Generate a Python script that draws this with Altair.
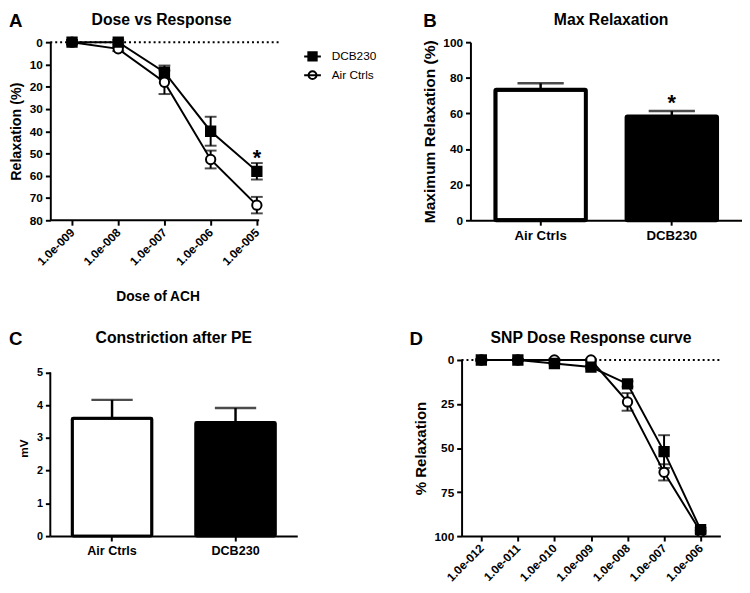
import json
import altair as alt
import pandas as pd

FONT = "Liberation Sans"

# ---------------- data ----------------
GROUPS = ["DCB230", "Air Ctrls"]          # legend order
BAR_GROUPS = ["Air Ctrls", "DCB230"]      # bar order
LETTERS = ["A", "B", "C", "D"]
TITLES = ["Dose vs Response", "Max Relaxation", "Constriction after PE", "SNP Dose Response curve"]

# Panel A : ACh dose response
DOSE_A = ["1.0e-009", "1.0e-008", "1.0e-007", "1.0e-006", "1.0e-005"]
A_DCB_MEAN = [0, 0, 13.5, 40, 58]
A_DCB_SEM = [1, 1, 3, 6.5, 3.7]
A_AIR_MEAN = [0, 3, 18, 52.7, 73.2]
A_AIR_SEM = [1, 1, 5.3, 4, 3.7]
STAR_A_IDX = [4]
STAR_A_Y = [55]

# Panel B : max relaxation
B_MEAN = [73.3, 58.3]
B_SEM = [3.6, 3.0]
STAR_B_Y = [62]

# Panel C : constriction after PE
C_MEAN = [3.6, 3.47]
C_SEM = [0.56, 0.44]

# Panel D : SNP dose response
DOSE_D = ["1.0e-012", "1.0e-011", "1.0e-010", "1.0e-009", "1.0e-008", "1.0e-007", "1.0e-006"]
D_DCB_MEAN = [0, 0, 2, 4, 13.6, 52, 96.3]
D_DCB_SEM = [0.5, 0.5, 0.5, 0.8, 1.5, 9.3, 1]
D_AIR_MEAN = [0, 0, 0, 0, 23.8, 63.8, 97.5]
D_AIR_SEM = [0.5, 0.5, 0.5, 0.5, 5, 4.6, 1]


def curve_df(dcb_m, dcb_s, air_m, air_s):
    rows = []
    for g, ms, ss in (("Air Ctrls", air_m, air_s), ("DCB230", dcb_m, dcb_s)):
        for i, (m, s) in enumerate(zip(ms, ss)):
            rows.append(dict(idx=i, group=g, mean=m, lo=m - s, hi=m + s))
    return pd.DataFrame(rows)


def bar_df(means, sems):
    return pd.DataFrame({"group": BAR_GROUPS, "mean": means,
                         "hi": [m + s for m, s in zip(means, sems)]})


# legend glyphs: marker with a line through it (Prism style)
SQ_PATH = "M-1,0L-0.5,0M0.5,0L1,0M-0.5,-0.5L0.5,-0.5L0.5,0.5L-0.5,0.5Z"
CI_PATH = "M-1,0L1,0M-0.47,0A0.47,0.47,0,1,0,0.47,0A0.47,0.47,0,1,0,-0.47,0Z"

LEGEND = alt.Legend(
    title=None, orient="right", offset=20, padding=5,
    labelFont=FONT, labelFontSize=12, labelFontWeight="normal", labelColor="black",
    labelOffset=10, rowPadding=1, symbolSize=289, symbolStrokeWidth=2,
    symbolStrokeColor="black", symbolOpacity=1,
)

HEADER_Y = -30


def header_layers(letter, letter_dx, title, title_x):
    """Panel letter and panel title, drawn as text in the header band."""
    d = pd.DataFrame({"letter": [letter], "title": [title]})
    let = alt.Chart(d).mark_text(
        font=FONT, fontSize=19, fontWeight="bold", align="left",
        baseline="top", color="black"
    ).encode(x=alt.value(letter_dx), y=alt.value(HEADER_Y), text="letter:N")
    tit = alt.Chart(d).mark_text(
        font=FONT, fontSize=16, fontWeight="bold", align="center",
        baseline="top", color="black"
    ).encode(x=alt.value(title_x), y=alt.value(HEADER_Y), text="title:N")
    return [let, tit]


def y_axis(values, title, title_size, label_size, domain=True):
    return alt.Axis(values=values, tickCount=len(values), labelFontSize=label_size,
                    labelPadding=3, labelOverlap=False, labelFlush=False,
                    labelSeparation=0, title=title, titleFontSize=title_size,
                    titlePadding=6, domain=domain)


def curve_panel(df, doses, xmin, xmax, axis_end, ymax, yvals, ytitle, ytitle_size, xtitle,
                width, height, letter, title, letter_dx, title_x, with_legend, stars=None):
    labels = json.dumps(doses)
    x_axis = alt.Axis(values=list(range(len(doses))),
                      labelExpr=f"{labels}[datum.value]",
                      labelAngle=-45, labelAlign="right", labelBaseline="middle",
                      labelFontSize=12, labelPadding=5, labelFlush=False,
                      labelOverlap=False, domain=(axis_end is None),
                      title=xtitle, titleFontSize=14, titlePadding=23, titleX=109)
    x_scale = alt.Scale(domain=[xmin, xmax], nice=False, zero=False)
    y_scale = alt.Scale(domain=[0, ymax], reverse=True, nice=False)
    yax = y_axis(yvals, ytitle, ytitle_size, 12)

    def X(f):
        return alt.X(f, scale=x_scale, axis=x_axis)

    def Y(f):
        return alt.Y(f, scale=y_scale, axis=yax)

    base = alt.Chart(df)
    lim = pd.DataFrame({"x0": [xmin], "x1": [xmax], "xe": [axis_end if axis_end is not None else xmax],
                        "y0": [0], "ye": [ymax]})
    layers = [
        alt.Chart(lim).mark_rule(strokeDash=[2, 3], strokeWidth=2, color="black").encode(
            x=X("x0:Q"), x2="x1:Q", y=Y("y0:Q")),
    ]
    if axis_end is not None:
        layers.append(alt.Chart(lim).mark_rule(strokeWidth=2, color="black").encode(
            x=X("x0:Q"), x2="xe:Q", y=Y("ye:Q")))
    layers += [
        base.mark_line(color="black", strokeWidth=2).encode(x=X("idx:Q"), y=Y("mean:Q"),
                                                            detail="group:N"),
        base.mark_rule(color="black", strokeWidth=2).encode(x=X("idx:Q"), y=Y("lo:Q"), y2="hi:Q"),
        base.mark_tick(orient="horizontal", size=12, thickness=2, color="black").encode(
            x=X("idx:Q"), y=Y("hi:Q")),
        base.mark_tick(orient="horizontal", size=12, thickness=2, color="black").encode(
            x=X("idx:Q"), y=Y("lo:Q")),
        base.mark_point(size=90, strokeWidth=2, stroke="black", opacity=1).encode(
            x=X("idx:Q"), y=Y("mean:Q"),
            shape=alt.Shape("group:N", scale=alt.Scale(domain=GROUPS, range=["square", "circle"]),
                            legend=None),
            fill=alt.Fill("group:N", scale=alt.Scale(domain=GROUPS, range=["black", "white"]),
                          legend=None)),
    ]
    if with_legend:
        # legend-only layer (draws no marks; its scales feed the legend)
        layers.append(base.transform_filter("false").mark_point(
            size=289, strokeWidth=2, opacity=1).encode(
            x=X("idx:Q"), y=Y("mean:Q"),
            shape=alt.Shape("group:N", scale=alt.Scale(domain=GROUPS, range=[SQ_PATH, CI_PATH]),
                            legend=LEGEND),
            fill=alt.Fill("group:N", scale=alt.Scale(domain=GROUPS, range=["black", "white"]),
                          legend=LEGEND),
            stroke=alt.Stroke("group:N", scale=alt.Scale(domain=GROUPS, range=["black", "black"]),
                              legend=LEGEND)))
    if stars is not None:
        layers.append(alt.Chart(stars).mark_text(font=FONT, fontSize=22, fontWeight="bold",
                                                 baseline="alphabetic", color="black").encode(
            x=X("idx:Q"), y=Y("y:Q"), text="t:N"))
    layers += header_layers(letter, letter_dx, title, title_x)
    return alt.layer(*layers).resolve_scale(
        shape="independent", fill="independent", stroke="independent").properties(
        width=width, height=height)


def bar_panel(df, ymax, ydomain_max, yvals, ytitle, ytitle_size, ylabel_size, xlabel_size,
              width, height, pin, pout, stroke_w, cap, letter, title, letter_dx, title_x,
              custom_axis=False, stars=None):
    x_scale = alt.Scale(paddingInner=pin, paddingOuter=pout)
    x_axis = alt.Axis(title=None, labelAngle=0, labelFontSize=xlabel_size,
                      labelPadding=4, bandPosition=0.5)
    y_scale = alt.Scale(domain=[0, ydomain_max], nice=False)
    yax = y_axis(yvals, ytitle, ytitle_size, ylabel_size, domain=not custom_axis)

    def X():
        return alt.X("group:N", sort=BAR_GROUPS, scale=x_scale, axis=x_axis)

    def Y(f):
        return alt.Y(f, scale=y_scale, axis=yax)

    base = alt.Chart(df)
    layers = [
        base.mark_bar(stroke="black", strokeWidth=stroke_w, cornerRadius=1).encode(
            x=X(), y=Y("mean:Q"),
            fill=alt.condition(alt.datum.group == "DCB230", alt.value("black"), alt.value("white"))),
        base.mark_rule(color="black", strokeWidth=2.5).encode(x=X(), y=Y("mean:Q"), y2="hi:Q"),
        base.mark_tick(size=cap, thickness=2.5, color="black").encode(x=X(), y=Y("hi:Q")),
    ]
    if custom_axis:
        layers.append(alt.Chart(pd.DataFrame({"y0": [0], "y1": [ymax]})).mark_rule(
            strokeWidth=2, color="black").encode(
            x=alt.value(0), y=Y("y0:Q"), y2="y1:Q"))
    if stars is not None:
        layers.append(alt.Chart(stars).mark_text(font=FONT, fontSize=22, fontWeight="bold",
                                                 baseline="alphabetic", color="black").encode(
            x=X(), y=Y("y:Q"), text="t:N"))
    layers += header_layers(letter, letter_dx, title, title_x)
    return alt.layer(*layers).properties(width=width, height=height)


dfA = curve_df(A_DCB_MEAN, A_DCB_SEM, A_AIR_MEAN, A_AIR_SEM)
starsA = pd.DataFrame({"idx": STAR_A_IDX, "y": STAR_A_Y, "t": ["*"] * len(STAR_A_IDX)})
chartA = curve_panel(dfA, DOSE_A, -0.47, 4.47, 4.05, 80, list(range(0, 81, 10)),
                     "Relaxation (%)", 14.5, "Dose of ACH", 232, 181, LETTERS[0], TITLES[0], -42,
                     113, True, starsA)

dfB = bar_df(B_MEAN, B_SEM)
starsB = pd.DataFrame({"group": ["DCB230"], "y": STAR_B_Y, "t": ["*"]})
chartB = bar_panel(dfB, 100, 100, list(range(0, 101, 20)), "Maximum Relaxation (%)", 15.8, 12, 13.5,
                   276, 181, 0.31, 0.19, 4, 47, LETTERS[1], TITLES[1], -48, 143, stars=starsB)

dfC = bar_df(C_MEAN, C_SEM)
chartC = bar_panel(dfC, 5, 5.378, [0, 1, 2, 3, 4, 5], "mV", 12, 11, 12.8,
                   251, 179, 0.355, 0.1775, 3, 42, LETTERS[2], TITLES[2], -42, 125.5,
                   custom_axis=True)

dfD = curve_df(D_DCB_MEAN, D_DCB_SEM, D_AIR_MEAN, D_AIR_SEM)
chartD = curve_panel(dfD, DOSE_D, -0.54, 6.54, None, 100, [0, 25, 50, 75, 100],
                     "% Relaxation", 15.3, None, 263, 179, LETTERS[3], TITLES[3], -53,
                     131.5, False)

IND = dict(fill="independent", shape="independent", stroke="independent")
row1 = alt.hconcat(chartA, chartB, spacing=39).resolve_scale(**IND).resolve_legend(**IND)
row2 = alt.hconcat(chartC, chartD, spacing=114).resolve_scale(**IND).resolve_legend(**IND)

chart = alt.vconcat(row1, row2, spacing=27).resolve_scale(**IND).resolve_legend(
    **IND
).configure_view(
    stroke=None
).configure_axis(
    domainColor="black", domainWidth=2, tickColor="black", tickWidth=2, tickSize=5,
    labelColor="black", labelFont=FONT, labelFontWeight="bold", labelOverlap=False,
    titleFont=FONT, titleFontWeight="bold", titleColor="black", grid=False
).configure_text(font=FONT).properties(padding=0, background="white")

chart.save("out.html", embed_options={"renderer": "svg", "actions": False})
